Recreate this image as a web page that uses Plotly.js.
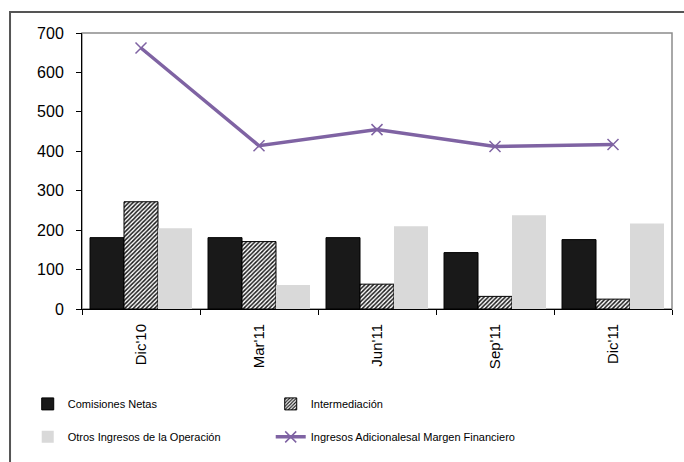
<!DOCTYPE html>
<html>
<head>
<meta charset="utf-8">
<script src="https://cdn.plot.ly/plotly-3.0.1.min.js"></script>
<style>html,body{margin:0;padding:0;background:#fff;}#chart{width:684px;height:462px;}</style>
</head>
<body>
<div id="chart"></div>
<script>
var categories = ["Dic'10", "Mar'11", "Jun'11", "Sep'11", "Dic'11"];
var comisionesNetas = [181, 181, 181, 143, 176];
var intermediacion = [272, 171, 63, 32, 25];
var otrosIngresos = [205, 61, 210, 238, 217];
var ingresosAdicionales = [662, 414, 455, 412, 417];
var seriesNames = ["Comisiones Netas", "Intermediación", "Otros Ingresos de la Operación", "Ingresos Adicionalesal Margen Financiero"];

var FONT = "Liberation Sans, Arial, sans-serif";
var purple = "#7f63a3";

var traces = [
  {type: "bar", name: seriesNames[0], x: categories, y: comisionesNetas,
   marker: {color: "#191919", line: {color: "#000", width: 1}}, legend: "legend"},
  {type: "bar", name: seriesNames[1], x: categories, y: intermediacion,
   marker: {color: "#ffffff", line: {color: "#000", width: 1},
            pattern: {shape: "/", fgcolor: "#1a1a1a", bgcolor: "#ffffff", size: 3, solidity: 0.5}}, legend: "legend"},
  {type: "bar", name: seriesNames[2], x: categories, y: otrosIngresos,
   marker: {color: "#d9d9d9", line: {width: 0}}, legend: "legend2"},
  {type: "scatter", mode: "lines+markers", name: seriesNames[3], x: categories, y: ingresosAdicionales,
   line: {color: purple, width: 3.5}, legendwidth: 330,
   marker: {symbol: "x-thin", size: 11, line: {color: purple, width: 1.5}, color: purple}, legend: "legend2"}
];

var layout = {
  width: 684, height: 462,
  margin: {l: 82, r: 12, t: 33, b: 152},
  paper_bgcolor: "#fff", plot_bgcolor: "#fff",
  font: {family: FONT, color: "#000", size: 15},
  barmode: "group", bargap: 0.136, bargroupgap: 0,
  showlegend: true,
  xaxis: {
    type: "category", showline: true, linecolor: "#000", linewidth: 1,
    tickson: "boundaries", ticks: "outside", ticklen: 5, tickcolor: "#000",
    tickangle: -90, ticklabelstandoff: 8, tickfont: {family: FONT, size: 15, color: "#000"},
    showgrid: false, zeroline: false, fixedrange: true
  },
  yaxis: {
    range: [0, 700], dtick: 100, showline: true, linecolor: "#000", linewidth: 1,
    ticks: "outside", ticklen: 5, tickcolor: "#000", ticklabelstandoff: 9,
    tickfont: {family: FONT, size: 16, color: "#000"},
    showgrid: false, zeroline: false, fixedrange: true
  },
  legend: {
    orientation: "h", x: -0.092, xanchor: "left", y: -0.339, yanchor: "middle",
    entrywidth: 198, entrywidthmode: "pixels",
    font: {family: FONT, size: 11, color: "#000"}, bgcolor: "rgba(0,0,0,0)"
  },
  legend2: {
    orientation: "h", x: -0.092, xanchor: "left", y: -0.458, yanchor: "middle",
    entrywidth: 198, entrywidthmode: "pixels",
    font: {family: FONT, size: 11, color: "#000"}, bgcolor: "rgba(0,0,0,0)"
  },
  shapes: [
    {type: "rect", xref: "paper", yref: "paper", x0: 0, x1: 1, y0: 0, y1: 1,
     line: {color: "#8c8c8c", width: 1.5}, layer: "below"},
    {type: "rect", xref: "paper", yref: "paper", x0: -0.122, x1: 1.2, y0: -0.9, y1: 1.0758,
     line: {color: "#555", width: 2}, layer: "below"}
  ]
};

Plotly.newPlot("chart", traces, layout, {displayModeBar: false, staticPlot: true});
</script>
</body>
</html>
